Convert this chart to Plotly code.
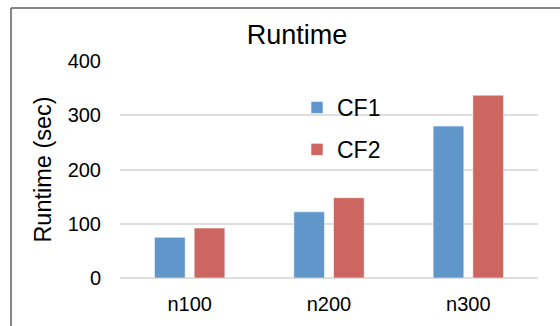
import plotly.graph_objects as go

# Runtime per problem size for the two configurations
categories = ["n100", "n200", "n300"]
cf1_runtime = [75, 122, 280]
cf2_runtime = [92, 148, 337]
y_ticks = [0, 100, 200, 300, 400]

W, H = 560, 326
ML, MR, MT, MB = 120, 22, 61, 48
plot_w = W - ML - MR
plot_h = H - MT - MB

FONT = "Liberation Sans, Arial, sans-serif"
BLUE = "#6196CA"
RED = "#CD6661"

fig = go.Figure()
fig.add_trace(go.Bar(
    x=categories, y=cf1_runtime, name="CF1", legendgroup="a",
    marker=dict(color=BLUE, line=dict(color="rgba(255,255,255,0.55)", width=1)),
))
fig.add_trace(go.Bar(
    x=categories, y=cf2_runtime, name="CF2", legendgroup="b",
    marker=dict(color=RED, line=dict(color="rgba(255,255,255,0.55)", width=1)),
))

# chart-area frame: left and top edges
def px_x(px):
    return (px - ML) / plot_w

def px_y(py):
    return (H - MB - py) / plot_h

frame = dict(color="#5f5f5f", width=1.5)
fig.add_shape(type="line", xref="paper", yref="paper",
              x0=px_x(11), x1=px_x(11), y0=px_y(8), y1=px_y(H + 5), line=frame)
fig.add_shape(type="line", xref="paper", yref="paper",
              x0=px_x(11), x1=px_x(W + 5), y0=px_y(8), y1=px_y(8), line=frame)

fig.update_layout(
    width=W, height=H,
    margin=dict(l=ML, r=MR, t=MT, b=MB),
    paper_bgcolor="white", plot_bgcolor="white",
    font=dict(family=FONT, color="#000000", size=20),
    title=dict(text="Runtime", x=297 / W, xanchor="center",
               y=1 - 35 / H, yanchor="middle",
               font=dict(family=FONT, size=27, color="#000000")),
    barmode="group", bargap=0.43, bargroupgap=0.227,
    showlegend=True,
    legend=dict(x=px_x(297), y=px_y(86), xanchor="left", yanchor="top",
                bgcolor="rgba(0,0,0,0)", font=dict(family=FONT, size=23),
                traceorder="grouped", tracegroupgap=9,
                itemwidth=30),
    xaxis=dict(showline=False, showgrid=False, ticks="", ticklabelstandoff=12,
               tickfont=dict(size=20)),
    yaxis=dict(range=[0, 400], tickvals=y_ticks, showline=False,
               showgrid=True, gridcolor="#DEDEDE", gridwidth=1.6,
               zeroline=True, zerolinecolor="#DEDEDE", zerolinewidth=1.6,
               ticks="", ticklabelstandoff=18, tickfont=dict(size=20),
               title=dict(text="Runtime (sec)", font=dict(size=23.5), standoff=9)),
)

fig.write_html("out.html")
